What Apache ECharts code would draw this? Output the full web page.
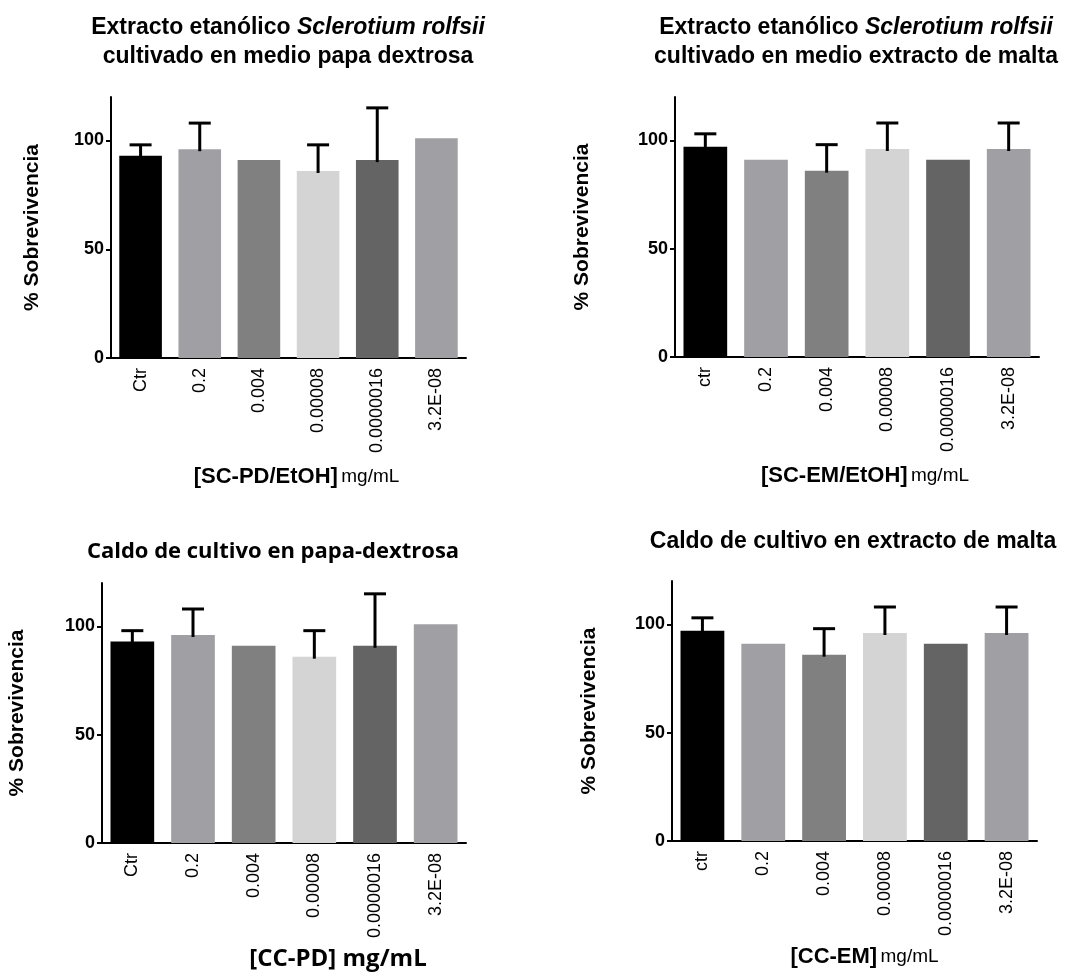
<!DOCTYPE html>
<html>
<head>
<meta charset="utf-8">
<script src="https://cdn.jsdelivr.net/npm/echarts@6/dist/echarts.min.js"></script>
<style>
  html, body { margin: 0; padding: 0; background: #fff; }
  #chart { width: 1080px; height: 973px; }
</style>
</head>
<body>
<div id="chart"></div>
<script>
const catsUpper = ['Ctr', '0.2', '0.004', '0.00008', '0.0000016', '3.2E-08'];
const catsLower = ['ctr', '0.2', '0.004', '0.00008', '0.0000016', '3.2E-08'];

// % sobrevivencia and the SD drawn above each bar (0 = no error bar)
const pdValues = [93, 96, 91, 86, 91, 101];
const pdSd = [5, 12, 0, 12, 24, 0];
const emValues = [97, 91, 86, 96, 91, 96];
const emSd = [6, 0, 12, 12, 0, 12];

const yTicks = [0, 50, 100];

const barColors = ['#000000', '#a0a0a4', '#808080', '#d4d4d4', '#646464', '#a0a0a4'];
const ARIAL = 'Liberation Sans';
const CALIBRI = 'Open Sans';

const panels = [
  { grid: { left: 111, top: 97, width: 355, height: 261 }, cats: catsUpper, values: pdValues, sd: pdSd,
    xName: '{b|[SC-PD/EtOH]} {r|mg/mL}', xNameGap: 108, xNamePad: [0, 0, 0, 16], yNameGap: 68 },
  { grid: { left: 675, top: 97, width: 364, height: 260 }, cats: catsLower, values: emValues, sd: emSd,
    xName: '{b|[SC-EM/EtOH]} {r|mg/mL}', xNameGap: 108, xNamePad: [0, 0, 0, 16], yNameGap: 82 },
  { grid: { left: 102, top: 583, width: 364, height: 260 }, cats: catsUpper, values: pdValues, sd: pdSd,
    xName: '{c|[CC-PD] mg/mL}', xNameGap: 104, xNamePad: [0, 0, 0, 108], yNameGap: 74 },
  { grid: { left: 672, top: 581, width: 365, height: 260 }, cats: catsLower, values: emValues, sd: emSd,
    xName: '{b|[CC-EM]} {r|mg/mL}', xNameGap: 105, xNamePad: [0, 0, 0, 20], yNameGap: 72 }
];

const titles = [
  { text: '{n|Extracto etanólico }{i|Sclerotium rolfsii}\n{n|cultivado en medio papa dextrosa}', left: 288, top: 13, font: ARIAL },
  { text: '{n|Extracto etanólico }{i|Sclerotium rolfsii}\n{n|cultivado en medio extracto de malta}', left: 856, top: 13, font: ARIAL },
  { text: '{n|Caldo de cultivo en papa-dextrosa}', left: 273, top: 537, font: CALIBRI },
  { text: '{n|Caldo de cultivo en extracto de malta}', left: 853, top: 527, font: ARIAL }
];

const myChart = echarts.init(document.getElementById('chart'));

const option = {
  backgroundColor: '#fff',
  animation: false,
  title: titles.map(t => ({
    text: t.text,
    left: t.left,
    top: t.top,
    textAlign: 'center',
    padding: 0,
    textStyle: {
      rich: {
        n: { fontFamily: t.font, fontWeight: 'bold', fontSize: t.font === ARIAL ? 23 : 22, lineHeight: 29, color: '#000' },
        i: { fontFamily: t.font, fontWeight: 'bold', fontStyle: 'italic', fontSize: 23, lineHeight: 29, color: '#000' }
      }
    }
  })),
  grid: panels.map(p => p.grid),
  xAxis: panels.map((p, i) => ({
    type: 'category',
    gridIndex: i,
    data: p.cats,
    name: p.xName,
    nameLocation: 'middle',
    nameGap: p.xNameGap,
    nameTextStyle: {
      padding: p.xNamePad,
      rich: {
        b: { fontFamily: ARIAL, fontWeight: 'bold', fontSize: 22, color: '#000' },
        r: { fontFamily: ARIAL, fontSize: 19, color: '#000' },
        c: { fontFamily: CALIBRI, fontWeight: 'bold', fontSize: 24, color: '#000' }
      }
    },
    axisLine: { lineStyle: { color: '#000', width: 2 } },
    axisTick: { alignWithLabel: true, length: 6, lineStyle: { color: '#000', width: 2 } },
    axisLabel: { rotate: 90, margin: 10, fontFamily: ARIAL, fontSize: 18, color: '#000' },
    splitLine: { show: false }
  })),
  yAxis: panels.map((p, i) => ({
    type: 'value',
    gridIndex: i,
    min: 0,
    max: 120,
    interval: 50,
    name: '% Sobrevivencia',
    nameLocation: 'middle',
    nameGap: p.yNameGap,
    nameTextStyle: { fontFamily: ARIAL, fontWeight: 'bold', fontSize: 21, color: '#000' },
    axisLine: { show: true, lineStyle: { color: '#000', width: 2 } },
    axisTick: { show: true, length: 5, customValues: yTicks, lineStyle: { color: '#000', width: 2 } },
    axisLabel: { customValues: yTicks, margin: 7, fontFamily: ARIAL, fontWeight: 'bold', fontSize: 18, color: '#000' },
    splitLine: { show: false }
  })),
  series: []
};

panels.forEach((p, i) => {
  option.series.push({
    type: 'bar',
    xAxisIndex: i,
    yAxisIndex: i,
    barWidth: '72%',
    data: p.values.map((v, k) => ({ value: v, itemStyle: { color: barColors[k] } }))
  });
  option.series.push({
    type: 'custom',
    xAxisIndex: i,
    yAxisIndex: i,
    z: 5,
    encode: { x: 0, y: 1 },
    data: p.values.map((v, k) => [k, v, p.sd[k]]),
    renderItem: function (params, api) {
      const sd = api.value(2);
      if (!sd) return null;
      const base = api.coord([api.value(0), api.value(1)]);
      const top = api.coord([api.value(0), api.value(1) + sd]);
      const style = { stroke: '#000', lineWidth: 3 };
      return {
        type: 'group',
        children: [
          { type: 'line', shape: { x1: base[0], y1: base[1] + 2, x2: top[0], y2: top[1] }, style },
          { type: 'line', shape: { x1: top[0] - 11, y1: top[1], x2: top[0] + 11, y2: top[1] }, style }
        ]
      };
    }
  });
});

myChart.setOption(option);
</script>
</body>
</html>
